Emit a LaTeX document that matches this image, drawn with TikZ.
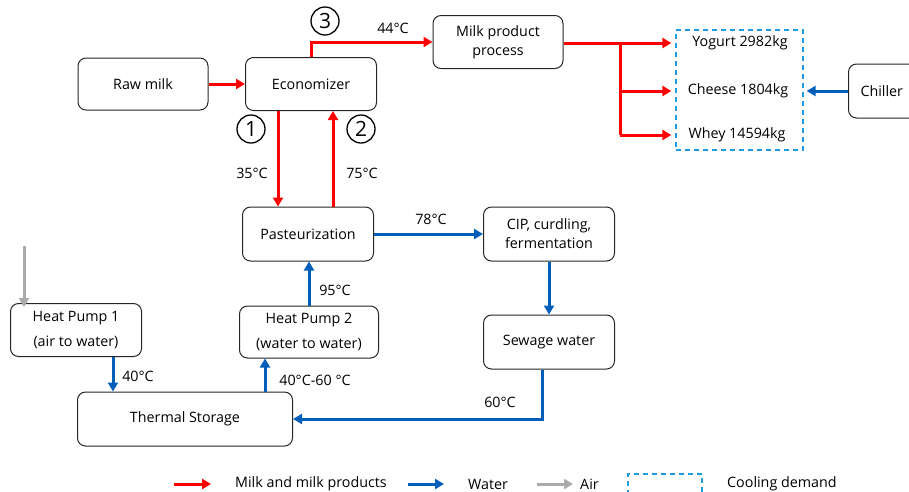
\documentclass[tikz,border=0pt]{standalone}
\usepackage{fontspec}
\setmainfont{Open Sans}
\usetikzlibrary{arrows.meta}
\definecolor{mred}{RGB}{255,0,0}
\definecolor{mblue}{RGB}{0,94,184}
\definecolor{mgray}{RGB}{170,170,170}
\definecolor{cblue}{RGB}{30,155,225}
\begin{document}
\begin{tikzpicture}[x=1pt,y=-1pt,
  box/.style={draw=black!85, line width=1pt, rounded corners=8pt, align=center,
    inner sep=0pt, font=\fontsize{14.3}{19}\selectfont},
  lbl/.style={inner sep=0pt, font=\fontsize{14.3}{16}\selectfont},
  circnum/.style={draw=black, line width=1.3pt, circle, minimum size=28pt, inner sep=0pt,
    font=\fontsize{21}{21}\selectfont},
  redarr/.style={draw=mred, line width=3pt, -{Triangle[length=9pt,width=10pt]}},
  bluearr/.style={draw=mblue, line width=3pt, -{Triangle[length=9pt,width=10pt]}},
  grayarr/.style={draw=mgray, line width=3pt, -{Triangle[length=9pt,width=10pt]}},
  cooling/.style={draw=cblue, line width=1.3pt, dash pattern=on 5pt off 4pt}
]
\useasboundingbox (0,0) rectangle (909,491);

% boxes
\node[box, minimum width=130pt, minimum height=52pt] (raw) at (143,84) {Raw milk};
\node[box, minimum width=131pt, minimum height=53pt] (eco) at (311,84) {Economizer};
\node[box, minimum width=130pt, minimum height=53pt] (mpp) at (498,42) {Milk product\\process};
\node[cooling, minimum width=127pt, minimum height=120pt, inner sep=0pt] (cool) at (739.5,90) {};
\node[lbl] (yog) at (740,43) {Yogurt 2982kg};
\node[lbl] (che) at (738,91) {Cheese 1804kg};
\node[lbl] (whey) at (737,135) {Whey 14594kg};
\node[box, minimum width=110pt, minimum height=54pt, anchor=west, text width=86pt, align=left] (chi) at (848,91) {Chiller};
\node[box, minimum width=131pt, minimum height=54pt] (past) at (308,234) {Pasteurization};
\node[box, minimum width=131pt, minimum height=54pt] (cip) at (549,234) {CIP, curdling,\\fermentation};
\node[box, minimum width=131pt, minimum height=54pt] (sew) at (549,342) {Sewage water};
\node[box, minimum width=139pt, minimum height=52pt, font=\fontsize{14.3}{25}\selectfont] (hp2) at (309,332) {Heat Pump 2\\(water to water)};
\node[box, minimum width=131pt, minimum height=53pt, font=\fontsize{14.3}{25}\selectfont] (hp1) at (76,330) {Heat Pump 1\\(air to water)};
\node[box, minimum width=215pt, minimum height=54pt] (ts) at (185,419) {Thermal Storage};

% helper coordinates
\coordinate (br) at (620,43);
\coordinate (x278) at (278,0);
\coordinate (x333) at (333,0);
\coordinate (x265) at (265,0);
\coordinate (x113) at (113,0);
\coordinate (x542) at (542,0);
\coordinate (airsrc) at (24,246);

% red connectors
\draw[redarr] (raw) -- (eco);
\draw[redarr] (eco.north) |- (mpp.west);
\draw[draw=mred, line width=3pt] (mpp.east |- br) -- (br) -- (br |- whey);
\draw[redarr] (br) -- ([xshift=-4pt]cool.west |- yog);
\draw[redarr] (br |- che) -- ([xshift=-4pt]cool.west |- che);
\draw[redarr] (br |- whey) -- ([xshift=-4pt]cool.west |- whey);
\draw[redarr] (eco.south -| x278) -- (past.north -| x278);
\draw[redarr] (past.north -| x333) -- (eco.south -| x333);

% blue connectors
\draw[bluearr] (chi.west) -- ([xshift=3pt]cool.east |- chi.west);
\draw[bluearr] (past) -- (cip);
\draw[bluearr] (cip) -- (sew);
\draw[bluearr] (sew.south -| x542) |- (ts.east);
\draw[bluearr] (hp2.north) -- (hp2.north |- past.south);
\draw[bluearr] (ts.north -| x265) -- (hp2.south -| x265);
\draw[bluearr] (hp1.south -| x113) -- (ts.north -| x113);
\draw[grayarr] (airsrc) -- ([yshift=-4pt]airsrc |- hp1.north);

% labels
\node[circnum] (c3) at (325,21) {3};
\node[circnum] (c1) at (251,129) {1};
\node[circnum] (c2) at (361,129) {2};
\node[lbl] (t44) at (393,28) {44°C};
\node[lbl] (t35) at (252,173) {35°C};
\node[lbl] (t75) at (362,173) {75°C};
\node[lbl] (t78) at (431,219) {78°C};
\node[lbl] (t95) at (335,290) {95°C};
\node[lbl] (t4060) at (315,380) {40°C-60 °C};
\node[lbl] (t40) at (138,376) {40°C};
\node[lbl] (t60) at (500,402) {60°C};

% legend
\coordinate (lr1) at (174,484); \coordinate (lr2) at (211,484);
\coordinate (lb1) at (408,484); \coordinate (lb2) at (444,484);
\coordinate (lg1) at (537,484); \coordinate (lg2) at (573,484);
\draw[redarr] (lr1) -- (lr2);
\draw[bluearr] (lb1) -- (lb2);
\draw[grayarr] (lg1) -- (lg2);
\node[lbl, anchor=west] (lmilk) at (235,484) {Milk and milk products};
\node[lbl, anchor=west] (lwater) at (468,484) {Water};
\node[lbl, anchor=west] (lair) at (580,484) {Air};
\draw[cooling] (628,495) -- (628,474) -- (702,474) -- (702,495);
\node[lbl, anchor=west] (lcool) at (727,484) {Cooling demand};
\end{tikzpicture}
\end{document}
